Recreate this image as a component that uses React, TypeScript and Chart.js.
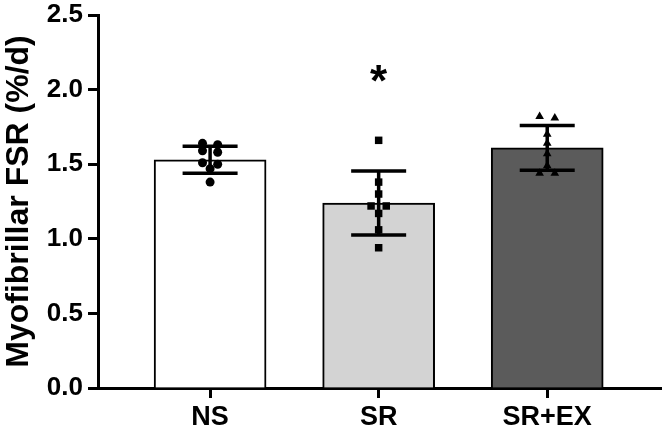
import { useEffect, useRef } from "react";
import { Chart, registerables } from "chart.js";

Chart.register(...registerables);

const groups = ["NS", "SR", "SR+EX"];
const groupMeans = [1.53, 1.24, 1.61];
const groupSD = [0.09, 0.215, 0.15];
const nsPoints = [1.64, 1.63, 1.59, 1.58, 1.51, 1.5, 1.47, 1.38];
const srPoints = [1.66, 1.38, 1.3, 1.22, 1.22, 1.17, 1.06, 0.94];
const srExPoints = [1.82, 1.81, 1.7, 1.64, 1.57, 1.49, 1.44, 1.44];
const significance = ["", "*", ""];
const significanceY = [0, 2.13, 0];

const FONT = "'Liberation Sans', Arial, sans-serif";

// put near-equal values side by side, like a column scatter
const spread = (values: number[], center: number, step: number) => {
  const out: { x: number; y: number }[] = [];
  let i = 0;
  while (i < values.length) {
    let j = i + 1;
    while (j < values.length && Math.abs(values[j] - values[i]) <= 0.02) j++;
    const n = j - i;
    for (let k = 0; k < n; k++) {
      out.push({ x: center + (k - (n - 1) / 2) * step, y: values[i + k] });
    }
    i = j;
  }
  return out;
};

const overlay = {
  id: "overlay",
  afterDatasetDraw(chart: any, args: any) {
    if (args.meta.type !== "bar") return;
    const { ctx } = chart;
    const x = chart.scales.x;
    const y = chart.scales.y;
    ctx.save();
    ctx.strokeStyle = "#000";
    ctx.lineWidth = 3.5;
    groups.forEach((_, i) => {
      const cx = x.getPixelForValue(i);
      const top = y.getPixelForValue(groupMeans[i] + groupSD[i]);
      const bottom = y.getPixelForValue(groupMeans[i] - groupSD[i]);
      ctx.beginPath();
      ctx.moveTo(cx, top);
      ctx.lineTo(cx, bottom);
      ctx.moveTo(cx - 27.5, top);
      ctx.lineTo(cx + 27.5, top);
      ctx.moveTo(cx - 27.5, bottom);
      ctx.lineTo(cx + 27.5, bottom);
      ctx.stroke();
    });
    ctx.restore();
  },
  afterDraw(chart: any) {
    const { ctx } = chart;
    const x = chart.scales.x;
    const y = chart.scales.y;
    ctx.save();
    ctx.fillStyle = "#000";
    ctx.font = `bold 44px ${FONT}`;
    ctx.textAlign = "center";
    ctx.textBaseline = "alphabetic";
    significance.forEach((s, i) => {
      if (!s) return;
      ctx.fillText(s, x.getPixelForValue(i), y.getPixelForValue(significanceY[i]) + 0.58 * 44);
    });
    ctx.restore();
  },
};

const App = () => {
  const chartRef = useRef<HTMLCanvasElement | null>(null);
  const chartInstance = useRef<Chart | null>(null);

  useEffect(() => {
    if (chartInstance.current) {
      chartInstance.current.destroy();
    }
    if (!chartRef.current) return;
    const ctx = chartRef.current.getContext("2d");
    if (!ctx) return;

    const step = 0.09;
    const pointSets = [nsPoints, srPoints, srExPoints];
    const styles = ["circle", "rect", "triangle"];
    const radii = [4.5, 5.3, 5];

    chartInstance.current = new Chart(ctx, {
      type: "bar",
      data: {
        datasets: [
          ...pointSets.map((pts, i) => ({
            type: "scatter" as const,
            data: spread(pts, i, step),
            pointStyle: styles[i] as any,
            pointRadius: radii[i],
            backgroundColor: "#000",
            borderColor: "#000",
            borderWidth: 0,
            order: 1,
          })),
          {
            type: "bar" as const,
            data: groups.map((_, i) => ({ x: i, y: groupMeans[i] })) as any,
            backgroundColor: ["#ffffff", "#d3d3d3", "#5b5b5b"],
            borderColor: "#000",
            borderWidth: 2,
            barThickness: 112,
            order: 2,
          },
        ],
      },
      options: {
        animation: false,
        responsive: false,
        layout: { padding: { top: 15, right: 6, left: 0, bottom: 0 } },
        plugins: {
          legend: { display: false },
          tooltip: { enabled: false },
        },
        scales: {
          x: {
            type: "linear",
            offset: false,
            min: -0.665,
            max: 2.675,
            afterBuildTicks: (s: any) => {
              s.ticks = groups.map((_, i) => ({ value: i }));
            },
            afterFit: (s: any) => {
              s.height = 45;
              s.paddingLeft = 0;
              s.paddingRight = 0;
            },
            ticks: {
              color: "#000",
              padding: 3,
              font: { family: FONT, size: 27, weight: "bold" },
              callback: (v: any) => groups[v as number] ?? "",
            },
            grid: {
              offset: false,
              drawOnChartArea: false,
              drawTicks: true,
              tickLength: 10,
              tickWidth: 3,
              tickColor: "#000",
            },
            border: { color: "#000", width: 3 },
          },
          y: {
            min: 0,
            max: 2.5,
            afterFit: (s: any) => {
              s.width = 98;
              s.paddingTop = 0;
              s.paddingBottom = 0;
            },
            ticks: {
              stepSize: 0.5,
              color: "#000",
              padding: 5,
              font: { family: FONT, size: 26, weight: "bold" },
              callback: (v: any) => Number(v).toFixed(1),
            },
            grid: {
              drawOnChartArea: false,
              drawTicks: true,
              tickLength: 10,
              tickWidth: 3,
              tickColor: "#000",
            },
            border: { color: "#000", width: 3 },
            title: {
              display: true,
              text: "Myofibrillar FSR (%/d)",
              color: "#000",
              font: { family: FONT, size: 32, weight: "bold" },
              padding: { top: 0, bottom: 0 },
            },
          },
        },
      },
      plugins: [overlay],
    });

    return () => {
      if (chartInstance.current) {
        chartInstance.current.destroy();
        chartInstance.current = null;
      }
    };
  }, []);

  return (
    <div style={{ position: "absolute", left: 0, top: 0, width: 667, height: 433, background: "#fff" }}>
      <canvas ref={chartRef} width={667} height={433}></canvas>
    </div>
  );
};

export default App;
